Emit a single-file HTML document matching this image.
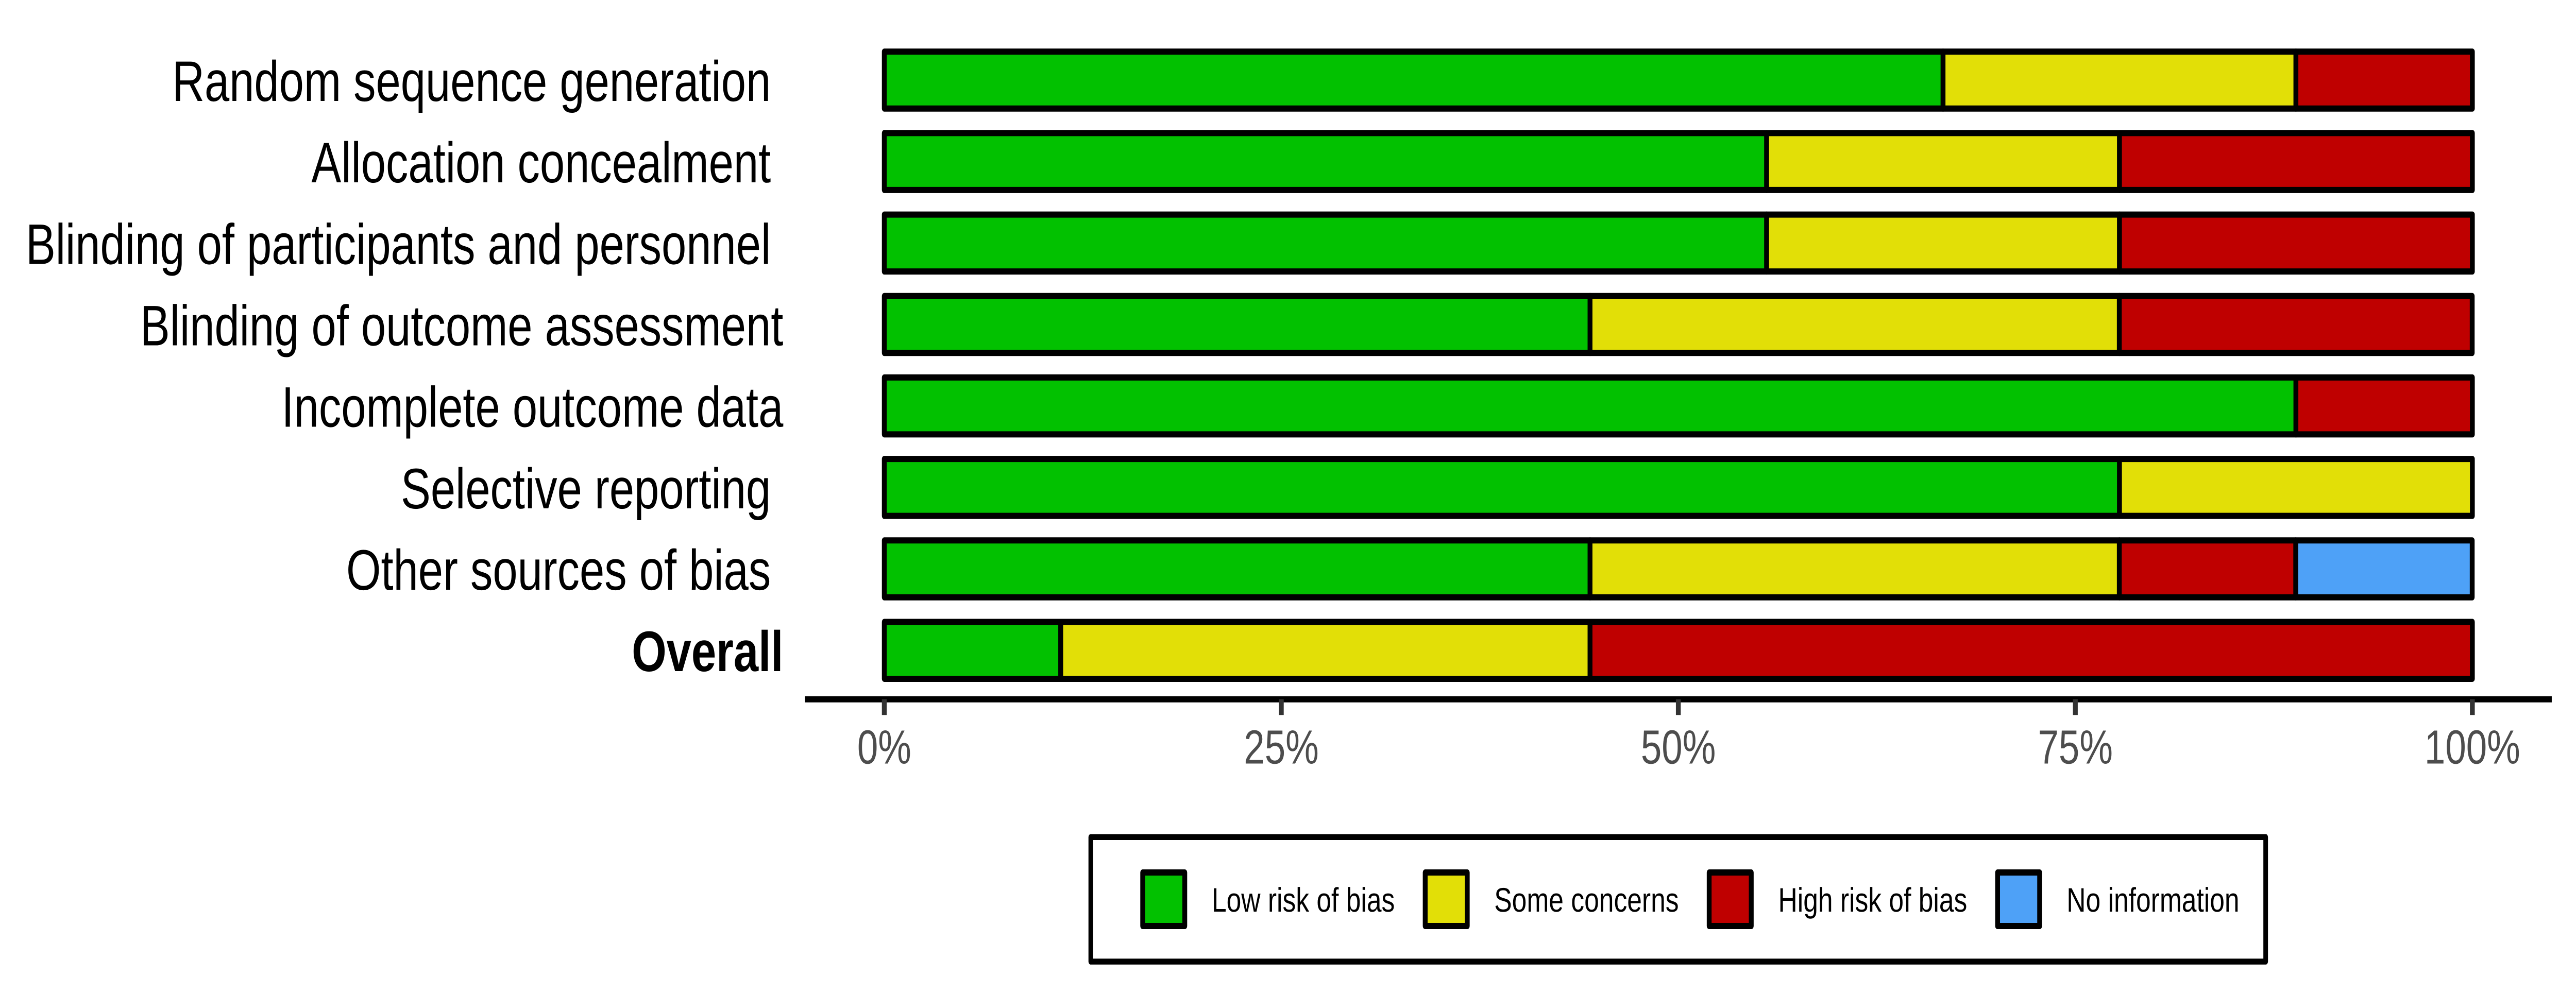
<!DOCTYPE html>
<html lang="en">
<head>
<meta charset="utf-8">
<title>Risk of bias summary</title>
<style>
html,body{margin:0;padding:0;background:#fff;width:100%;height:100%;overflow:hidden;}
svg{display:block;width:100vw;height:100vh;}
text{font-family:"Liberation Sans",Arial,sans-serif;white-space:pre;text-rendering:geometricPrecision;}
</style>
</head>
<body>
<svg id="chart" xmlns="http://www.w3.org/2000/svg" viewBox="0 0 6400 1928" preserveAspectRatio="none">
<rect x="0" y="0" width="6400" height="1928" fill="#ffffff"/>
</svg>
<script>
// Chart data
var categories = ["Random sequence generation ", "Allocation concealment ", "Blinding of participants and personnel ", "Blinding of outcome assessment", "Incomplete outcome data", "Selective reporting ", "Other sources of bias ", "Overall"];
var lowRisk = [66.67, 55.56, 55.56, 44.44, 88.89, 77.78, 44.44, 11.11];
var someConcerns = [22.22, 22.22, 22.22, 33.33, 0, 22.22, 33.33, 33.33];
var highRisk = [11.11, 22.22, 22.22, 22.22, 11.11, 0, 11.11, 55.56];
var noInformation = [0, 0, 0, 0, 0, 0, 11.11, 0];
var seriesNames = ["Low risk of bias", "Some concerns", "High risk of bias", "No information"];
var seriesColors = ["#02C100", "#E2DF07", "#BF0000", "#4EA1F7"];
var tickValues = [0, 25, 50, 75, 100];
var tickLabels = ["0%", "25%", "50%", "75%", "100%"];

var svg = document.getElementById('chart');
var NS = 'http://www.w3.org/2000/svg';

function make(tag, attrs, parent, txt) {
  var el = document.createElementNS(NS, tag);
  for (var k in attrs) { el.setAttribute(k, attrs[k]); }
  if (txt !== undefined) { el.textContent = txt; }
  parent.appendChild(el);
  return el;
}
function slug(s) {
  return s.trim().toLowerCase().replace(/[^a-z0-9]+/g, '-');
}

// Axis functions
function xScale(v) { return 2197 + (v / 100) * 3945.5; }
function yScale(i) { return 155.5 + i * 158.17; }
var BAR_H = 110.5;
var STROKE = 12;

var allSeries = [lowRisk, someConcerns, highRisk, noInformation];

// Category labels
var labelGroup = make('g', {}, svg);


categories.forEach(function (cat, i) {
  var t = make('text', {
    x: 1946, y: yScale(i) + 40.5, 'text-anchor': 'end', 'font-size': 111,
    'font-weight': cat === 'Overall' ? 'bold' : 'normal', fill: '#000000',
    'xml:space': 'preserve'
  }, labelGroup, cat);
  
  
});

// Stacked bars
var barGroup = make('g', {}, svg);


categories.forEach(function (cat, i) {
  var row = make('g', {}, barGroup);
  
  
  var cum = 0;
  allSeries.forEach(function (values, s) {
    var v = values[i];
    if (v > 0) {
      var end = Math.min(cum + v, 100);
      var r = make('rect', {
        x: xScale(cum), y: yScale(i) - BAR_H / 2,
        width: xScale(end) - xScale(cum), height: BAR_H,
        fill: seriesColors[s], stroke: '#000000', 'stroke-width': STROKE,
        'stroke-linejoin': 'round'
      }, row);
      
      
    }
    cum += v;
  });
});

// X axis
var axisGroup = make('g', {}, svg);


var AXIS_Y = 1357.7;
var axisLine = make('line', {
  x1: xScale(-5), x2: xScale(105), y1: AXIS_Y, y2: AXIS_Y,
  stroke: '#000000', 'stroke-width': STROKE
}, axisGroup);


tickValues.forEach(function (v, i) {
  var tick = make('line', {
    x1: xScale(v), x2: xScale(v), y1: AXIS_Y, y2: AXIS_Y + 30.5,
    stroke: '#333333', 'stroke-width': STROKE
  }, axisGroup);
  
  
  var lab = make('text', {
    x: xScale(v), y: 1482.7, 'text-anchor': 'middle', 'font-size': 93, fill: '#4D4D4D'
  }, axisGroup, tickLabels[i]);
  
  
});

// Legend
var legend = make('g', {}, svg);


var frame = make('rect', {
  x: 2710, y: 1625.3, width: 2919, height: 241.7,
  fill: '#ffffff', stroke: '#000000', 'stroke-width': 11.5, 'stroke-linejoin': 'round'
}, legend);


var KEY_W = 104.5, KEY_H = 104, KEY_TOP = 1694, KEY_GAP = 67, ENTRY_GAP = 75.5;
var cursor = 2839;
seriesNames.forEach(function (name, s) {
  var entry = make('g', {}, legend);
  
  
  var key = make('rect', {
    x: cursor, y: KEY_TOP, width: KEY_W, height: KEY_H,
    fill: seriesColors[s], stroke: '#000000', 'stroke-width': STROKE, 'stroke-linejoin': 'round'
  }, entry);
  
  
  var tx = cursor + KEY_W + KEY_GAP;
  var label = make('text', {
    x: tx, y: 1770, 'font-size': 66, fill: '#000000'
  }, entry, name);
  
  
  cursor = tx + label.getComputedTextLength() + ENTRY_GAP;
});
</script>
</body>
</html>
